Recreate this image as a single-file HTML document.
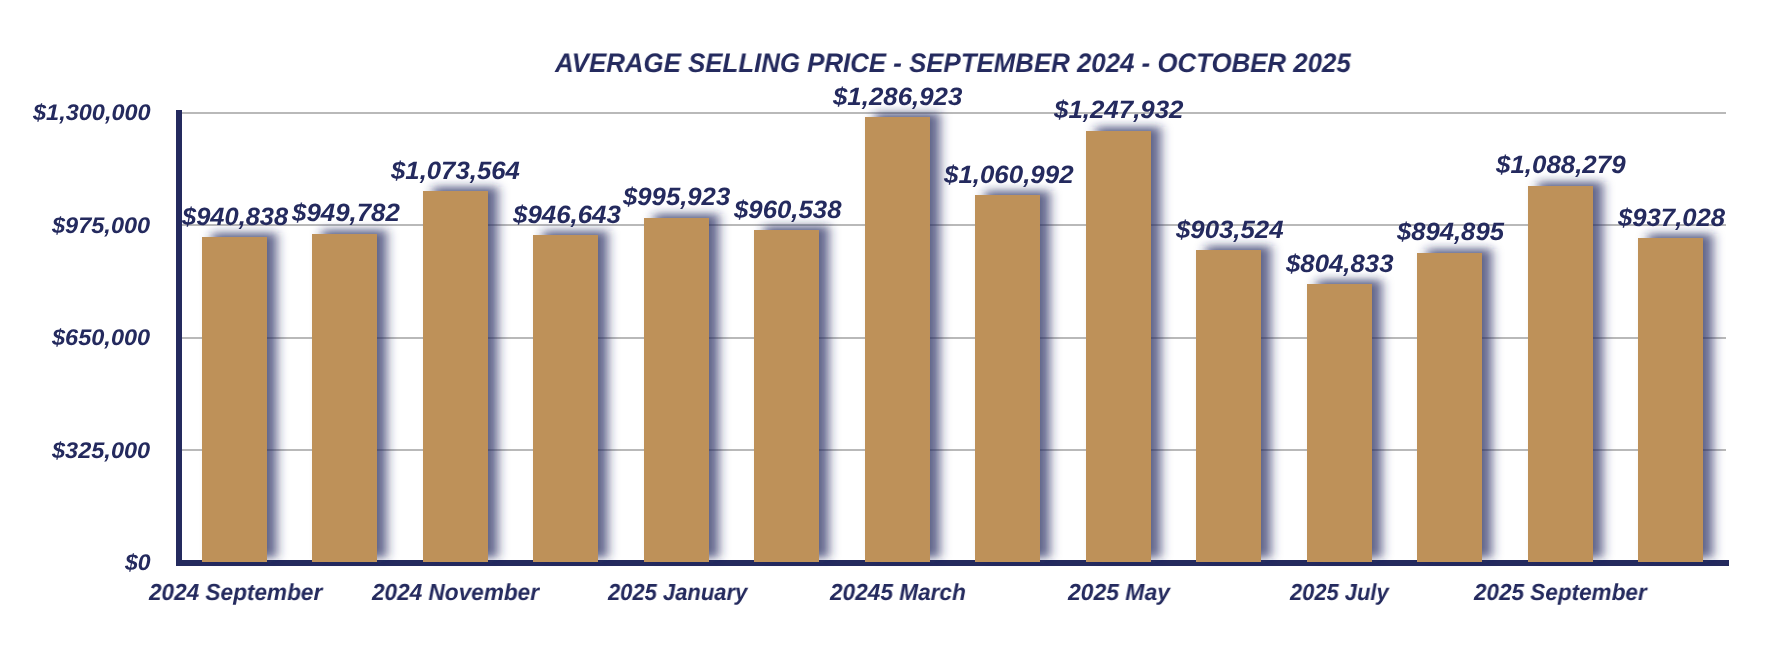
<!DOCTYPE html>
<html><head><meta charset="utf-8"><style>
html,body{margin:0;padding:0;background:#fff;width:1790px;height:658px;overflow:hidden}
.a{position:absolute}
.t{position:absolute;font-family:"Liberation Sans",sans-serif;font-weight:bold;font-style:italic;line-height:1;white-space:nowrap;color:#242a5e;transform-origin:0 0;will-change:transform;text-rendering:geometricPrecision}
</style></head><body>
<svg class="a" style="left:0;top:0" width="1790" height="658" viewBox="0 0 1790 658"><defs><filter id="sh" x="-40%" y="-20%" width="180%" height="140%"><feGaussianBlur stdDeviation="5.2 4.4"/></filter></defs><rect x="182" y="112" width="1544" height="2" fill="#b9b9b9"/><rect x="182" y="224" width="1544" height="2" fill="#b9b9b9"/><rect x="182" y="337" width="1544" height="2" fill="#b9b9b9"/><rect x="182" y="449" width="1544" height="2" fill="#b9b9b9"/><rect x="176" y="110" width="6" height="456" fill="#242a5e"/><rect x="176" y="560" width="1553" height="6" fill="#242a5e"/><g filter="url(#sh)" fill="#20275e" fill-opacity="0.72"><rect x="211.90" y="232.80" width="65" height="325.00"/><rect x="321.90" y="229.80" width="65" height="328.00"/><rect x="432.90" y="186.80" width="65" height="371.00"/><rect x="542.90" y="230.80" width="65" height="327.00"/><rect x="653.90" y="213.80" width="65" height="344.00"/><rect x="763.90" y="225.80" width="65" height="332.00"/><rect x="874.90" y="112.80" width="65" height="445.00"/><rect x="984.90" y="190.80" width="65" height="367.00"/><rect x="1095.90" y="126.80" width="65" height="431.00"/><rect x="1205.90" y="245.80" width="65" height="312.00"/><rect x="1316.90" y="279.80" width="65" height="278.00"/><rect x="1426.90" y="248.80" width="65" height="309.00"/><rect x="1537.90" y="181.80" width="65" height="376.00"/><rect x="1647.90" y="233.80" width="65" height="324.00"/></g><rect x="202.00" y="237.00" width="65" height="325.00" fill="#be9159"/><rect x="312.00" y="234.00" width="65" height="328.00" fill="#be9159"/><rect x="423.00" y="191.00" width="65" height="371.00" fill="#be9159"/><rect x="533.00" y="235.00" width="65" height="327.00" fill="#be9159"/><rect x="644.00" y="218.00" width="65" height="344.00" fill="#be9159"/><rect x="754.00" y="230.00" width="65" height="332.00" fill="#be9159"/><rect x="865.00" y="117.00" width="65" height="445.00" fill="#be9159"/><rect x="975.00" y="195.00" width="65" height="367.00" fill="#be9159"/><rect x="1086.00" y="131.00" width="65" height="431.00" fill="#be9159"/><rect x="1196.00" y="250.00" width="65" height="312.00" fill="#be9159"/><rect x="1307.00" y="284.00" width="65" height="278.00" fill="#be9159"/><rect x="1417.00" y="253.00" width="65" height="309.00" fill="#be9159"/><rect x="1528.00" y="186.00" width="65" height="376.00" fill="#be9159"/><rect x="1638.00" y="238.00" width="65" height="324.00" fill="#be9159"/></svg>
<div class="t" style="left:554.60px;top:49.58px;font-size:26.74px;transform:scaleX(0.9662)">AVERAGE SELLING PRICE - SEPTEMBER 2024 - OCTOBER 2025</div>
<div class="t" style="left:32.51px;top:100.66px;font-size:22.73px;transform:scaleX(1.0350)">$1,300,000</div>
<div class="t" style="left:51.60px;top:213.67px;font-size:22.73px;transform:scaleX(1.0358)">$975,000</div>
<div class="t" style="left:51.60px;top:325.63px;font-size:22.73px;transform:scaleX(1.0358)">$650,000</div>
<div class="t" style="left:51.60px;top:438.67px;font-size:22.73px;transform:scaleX(1.0358)">$325,000</div>
<div class="t" style="left:124.70px;top:550.55px;font-size:22.73px;transform:scaleX(1.0128)">$0</div>
<div class="t" style="left:181.59px;top:204.70px;font-size:25.08px;transform:scaleX(1.0150)">$940,838</div>
<div class="t" style="left:291.58px;top:200.58px;font-size:25.08px;transform:scaleX(1.0310)">$949,782</div>
<div class="t" style="left:390.58px;top:158.51px;font-size:25.08px;transform:scaleX(1.0268)">$1,073,564</div>
<div class="t" style="left:512.62px;top:202.73px;font-size:25.08px;transform:scaleX(1.0309)">$946,643</div>
<div class="t" style="left:622.63px;top:184.72px;font-size:25.08px;transform:scaleX(1.0249)">$995,923</div>
<div class="t" style="left:733.59px;top:197.74px;font-size:25.08px;transform:scaleX(1.0273)">$960,538</div>
<div class="t" style="left:832.73px;top:84.55px;font-size:25.08px;transform:scaleX(1.0301)">$1,286,923</div>
<div class="t" style="left:943.56px;top:162.68px;font-size:25.08px;transform:scaleX(1.0320)">$1,060,992</div>
<div class="t" style="left:1053.53px;top:97.69px;font-size:25.08px;transform:scaleX(1.0318)">$1,247,932</div>
<div class="t" style="left:1175.62px;top:217.74px;font-size:25.08px;transform:scaleX(1.0282)">$903,524</div>
<div class="t" style="left:1285.56px;top:251.63px;font-size:25.08px;transform:scaleX(1.0278)">$804,833</div>
<div class="t" style="left:1396.58px;top:219.72px;font-size:25.08px;transform:scaleX(1.0218)">$894,895</div>
<div class="t" style="left:1495.67px;top:152.70px;font-size:25.08px;transform:scaleX(1.0323)">$1,088,279</div>
<div class="t" style="left:1617.67px;top:205.68px;font-size:25.08px;transform:scaleX(1.0240)">$937,028</div>
<div class="t" style="left:148.73px;top:580.53px;font-size:23.13px;transform:scaleX(0.9763)">2024 September</div>
<div class="t" style="left:371.50px;top:580.53px;font-size:23.13px;transform:scaleX(0.9768)">2024 November</div>
<div class="t" style="left:607.61px;top:580.74px;font-size:23.13px;transform:scaleX(0.9502)">2025 January</div>
<div class="t" style="left:829.59px;top:580.51px;font-size:23.13px;transform:scaleX(0.9786)">20245 March</div>
<div class="t" style="left:1067.69px;top:580.52px;font-size:23.13px;transform:scaleX(0.9914)">2025 May</div>
<div class="t" style="left:1289.56px;top:580.74px;font-size:23.13px;transform:scaleX(0.9477)">2025 July</div>
<div class="t" style="left:1473.63px;top:580.51px;font-size:23.13px;transform:scaleX(0.9731)">2025 September</div>
</body></html>
